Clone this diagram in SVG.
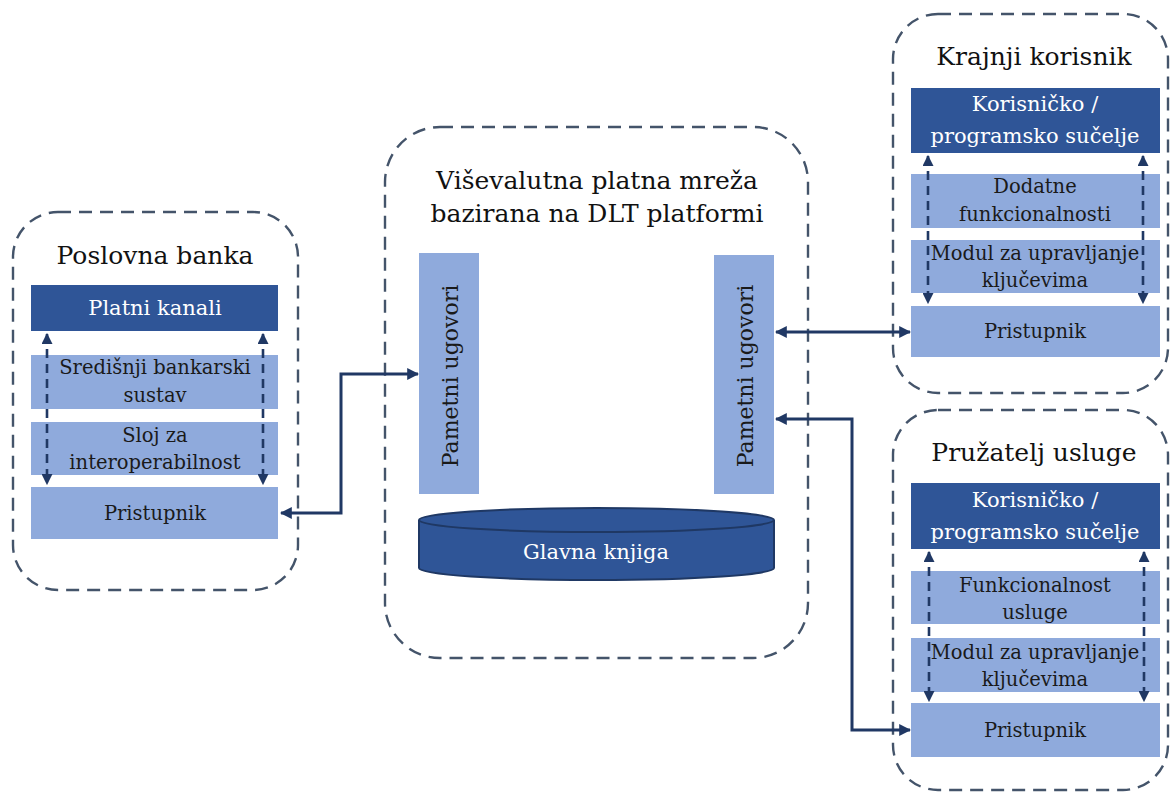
<svg xmlns="http://www.w3.org/2000/svg" width="1170" height="792" viewBox="0 0 1170 792">
<defs>
<style>
.cont{fill:none;stroke:#44546A;stroke-width:2.4;stroke-dasharray:13 8}
.dark{fill:#2F5597}
.light{fill:#8FAADC}
.t{font-family:"DejaVu Serif","Liberation Serif",serif;text-anchor:middle}
.title{font-size:25px;fill:#111}
.wt{font-size:21px;fill:#fff}
.bt{font-size:19.5px;fill:#1a1a1a}
.vt{font-size:22px;fill:#1a1a1a}
.dv{fill:none;stroke:#203864;stroke-width:2.6;stroke-dasharray:9 6}
.con{fill:none;stroke:#203864;stroke-width:3}
</style>
<marker id="ah" viewBox="0 0 10 10" refX="9" refY="5" markerWidth="11" markerHeight="11" markerUnits="userSpaceOnUse" orient="auto-start-reverse">
<path d="M0,0 L10,5 L0,10 z" fill="#203864"/>
</marker>
<marker id="ah2" viewBox="0 0 10 10" refX="9" refY="5" markerWidth="12" markerHeight="12" markerUnits="userSpaceOnUse" orient="auto-start-reverse">
<path d="M0,0 L10,5 L0,10 z" fill="#203864"/>
</marker>
</defs>
<rect width="1170" height="792" fill="#fff"/>

<g id="poslovna-banka">
<rect class="cont" x="13" y="212" width="285" height="378" rx="45"/>
<text class="t title" x="155" y="264">Poslovna banka</text>
<rect class="dark" x="31" y="285" width="247" height="46"/>
<text class="t wt" x="155" y="315">Platni kanali</text>
<rect class="light" x="31" y="355" width="247" height="54"/>
<text class="t bt" x="155" y="374">Središnji bankarski</text>
<text class="t bt" x="155" y="402">sustav</text>
<rect class="light" x="31" y="422" width="247" height="53"/>
<text class="t bt" x="155" y="442">Sloj za</text>
<text class="t bt" x="155" y="469">interoperabilnost</text>
<rect class="light" x="31" y="487" width="247" height="52"/>
<text class="t bt" x="155" y="520">Pristupnik</text>
<line class="dv" x1="47" y1="334" x2="47" y2="484" marker-start="url(#ah)" marker-end="url(#ah)"/>
<line class="dv" x1="263" y1="334" x2="263" y2="484" marker-start="url(#ah)" marker-end="url(#ah)"/>
</g>

<g id="dlt-mreza">
<rect class="cont" x="385" y="127" width="423" height="531" rx="55"/>
<text class="t title" x="597" y="189">Viševalutna platna mreža</text>
<text class="t title" x="597" y="222">bazirana na DLT platformi</text>
</g>

<g id="pametni-ugovori-1">
<rect class="light" x="419" y="253" width="60" height="241"/>
<text class="t vt" transform="translate(458,376) rotate(-90)">Pametni ugovori</text>
</g>
<g id="pametni-ugovori-2">
<rect class="light" x="714" y="255" width="60" height="239"/>
<text class="t vt" transform="translate(753,376) rotate(-90)">Pametni ugovori</text>
</g>

<g id="glavna-knjiga">
<path d="M419,520 L419,568 A177.5,12 0 0 0 774,568 L774,520" fill="#2F5597" stroke="#1F3864" stroke-width="2"/>
<ellipse cx="596.5" cy="520" rx="177.5" ry="12" fill="#2F5597" stroke="#1F3864" stroke-width="2"/>
<text class="t wt" x="596" y="559">Glavna knjiga</text>
</g>

<g id="krajnji-korisnik">
<rect class="cont" x="893" y="14" width="275" height="379" rx="45"/>
<text class="t title" x="1034" y="65">Krajnji korisnik</text>
<rect class="dark" x="911" y="88" width="249" height="65"/>
<text class="t wt" x="1035" y="111">Korisničko /</text>
<text class="t wt" x="1035" y="143">programsko sučelje</text>
<rect class="light" x="911" y="174" width="249" height="54"/>
<text class="t bt" x="1035" y="193">Dodatne</text>
<text class="t bt" x="1035" y="221">funkcionalnosti</text>
<rect class="light" x="911" y="240" width="249" height="53"/>
<text class="t bt" x="1035" y="260">Modul za upravljanje</text>
<text class="t bt" x="1035" y="287">ključevima</text>
<rect class="light" x="911" y="306" width="249" height="51"/>
<text class="t bt" x="1035" y="338">Pristupnik</text>
<line class="dv" x1="928" y1="156" x2="928" y2="303" marker-start="url(#ah)" marker-end="url(#ah)"/>
<line class="dv" x1="1143" y1="156" x2="1143" y2="303" marker-start="url(#ah)" marker-end="url(#ah)"/>
</g>

<g id="pruzatelj-usluge">
<rect class="cont" x="893" y="410" width="275" height="380" rx="45"/>
<text class="t title" x="1034" y="461">Pružatelj usluge</text>
<rect class="dark" x="911" y="483" width="249" height="66"/>
<text class="t wt" x="1035" y="507">Korisničko /</text>
<text class="t wt" x="1035" y="539">programsko sučelje</text>
<rect class="light" x="911" y="571" width="249" height="53"/>
<text class="t bt" x="1035" y="592">Funkcionalnost</text>
<text class="t bt" x="1035" y="619">usluge</text>
<rect class="light" x="911" y="638" width="249" height="54"/>
<text class="t bt" x="1035" y="659">Modul za upravljanje</text>
<text class="t bt" x="1035" y="686">ključevima</text>
<rect class="light" x="911" y="703" width="249" height="54"/>
<text class="t bt" x="1035" y="737">Pristupnik</text>
<line class="dv" x1="929" y1="552" x2="929" y2="701" marker-start="url(#ah)" marker-end="url(#ah)"/>
<line class="dv" x1="1144" y1="552" x2="1144" y2="701" marker-start="url(#ah)" marker-end="url(#ah)"/>
</g>

<g id="connectors">
<path class="con" d="M281,513 L341,513 L341,374 L418,374" marker-start="url(#ah2)" marker-end="url(#ah2)"/>
<path class="con" d="M776,332 L910,332" marker-start="url(#ah2)" marker-end="url(#ah2)"/>
<path class="con" d="M776,419 L852,419 L852,730 L910,730" marker-start="url(#ah2)" marker-end="url(#ah2)"/>
</g>
</svg>
